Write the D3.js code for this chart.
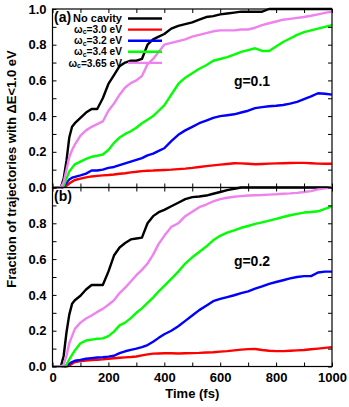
<!DOCTYPE html>
<html>
<head>
<meta charset="utf-8">
<script src="https://cdn.jsdelivr.net/npm/d3@7"></script>
<style>
  body { margin: 0; background: #fff; }
  text { font-family: "Liberation Sans", Arial, sans-serif; font-weight: bold; fill: #000; }
</style>
</head>
<body>
<div class="chart"></div>
<script>
// time grid (fs)
const times = [0, 20, 30, 40, 50, 60, 70, 80, 100, 120, 140, 160, 180, 200, 220, 240, 260, 280, 300, 320,
  340, 360, 380, 400, 425, 450, 475, 500, 525, 550, 575, 600, 625, 650, 675, 700, 725, 750, 775, 800,
  825, 850, 875, 900, 925, 950, 975, 1000]

const seriesNames = ['No cavity', '3.0', '3.2', '3.4', '3.65']
const seriesColors = ['#000000', '#ff0000', '#0000ff', '#00ff00', '#ee82ee']

// panel (a), g = 0.1
const a_noCavity = [0, 0, 0, 0.05, 0.15, 0.28, 0.34, 0.36, 0.39, 0.42, 0.44, 0.44, 0.50, 0.58, 0.63, 0.68, 0.70, 0.71, 0.71, 0.72,
  0.80, 0.83, 0.845, 0.86, 0.89, 0.905, 0.915, 0.925, 0.94, 0.955, 0.96, 0.97, 0.975, 0.98, 0.985, 0.985, 0.985, 0.985, 1, 1,
  1, 1, 1, 1, 1, 1, 1, 1]
const a_w30 = [0, 0, 0, 0.003, 0.01, 0.022, 0.033, 0.042, 0.05, 0.057, 0.062, 0.065, 0.068, 0.07, 0.073, 0.077, 0.08, 0.085, 0.088, 0.092,
  0.094, 0.095, 0.097, 0.098, 0.10, 0.103, 0.106, 0.11, 0.115, 0.12, 0.124, 0.128, 0.132, 0.136, 0.135, 0.133, 0.13, 0.132, 0.134, 0.135,
  0.136, 0.137, 0.138, 0.138, 0.136, 0.134, 0.133, 0.133]
const a_w32 = [0, 0, 0, 0.005, 0.025, 0.045, 0.055, 0.06, 0.068, 0.078, 0.095, 0.095, 0.10, 0.11, 0.115, 0.125, 0.135, 0.145, 0.155, 0.165,
  0.18, 0.19, 0.205, 0.22, 0.26, 0.295, 0.32, 0.34, 0.36, 0.375, 0.39, 0.40, 0.405, 0.41, 0.42, 0.43, 0.445, 0.45, 0.455, 0.458,
  0.462, 0.47, 0.48, 0.495, 0.51, 0.528, 0.525, 0.52]
const a_w34 = [0, 0, 0, 0.01, 0.05, 0.09, 0.11, 0.13, 0.145, 0.16, 0.172, 0.178, 0.185, 0.21, 0.25, 0.28, 0.30, 0.315, 0.335, 0.36,
  0.38, 0.40, 0.43, 0.46, 0.52, 0.58, 0.615, 0.64, 0.665, 0.685, 0.71, 0.72, 0.73, 0.745, 0.76, 0.77, 0.78, 0.765, 0.765, 0.79,
  0.815, 0.835, 0.855, 0.87, 0.88, 0.89, 0.90, 0.91]
const a_w365 = [0, 0, 0, 0.03, 0.10, 0.17, 0.21, 0.24, 0.29, 0.32, 0.34, 0.355, 0.37, 0.43, 0.47, 0.52, 0.56, 0.585, 0.60, 0.625,
  0.69, 0.72, 0.76, 0.80, 0.81, 0.82, 0.83, 0.845, 0.855, 0.865, 0.875, 0.88, 0.88, 0.88, 0.885, 0.885, 0.895, 0.91, 0.92, 0.93,
  0.94, 0.945, 0.95, 0.955, 0.962, 0.97, 0.978, 0.985]

// panel (b), g = 0.2
const b_noCavity = [0, 0, 0, 0.06, 0.19, 0.29, 0.35, 0.37, 0.395, 0.43, 0.455, 0.455, 0.455, 0.53, 0.62, 0.665, 0.69, 0.71, 0.715, 0.72,
  0.80, 0.84, 0.862, 0.875, 0.895, 0.915, 0.935, 0.946, 0.95, 0.955, 0.965, 0.975, 0.985, 0.993, 1, 1, 1, 1, 1, 1,
  1, 1, 1, 1, 1, 1, 1, 1]
const b_w30 = [0, 0, 0, 0, 0, 0.005, 0.015, 0.025, 0.03, 0.033, 0.036, 0.038, 0.04, 0.043, 0.046, 0.049, 0.051, 0.053, 0.056, 0.062,
  0.068, 0.072, 0.073, 0.074, 0.074, 0.073, 0.074, 0.075, 0.076, 0.078, 0.08, 0.083, 0.086, 0.09, 0.094, 0.097, 0.098, 0.092, 0.088, 0.086,
  0.086, 0.088, 0.09, 0.092, 0.096, 0.10, 0.104, 0.108]
const b_w32 = [0, 0, 0, 0, 0.005, 0.015, 0.025, 0.032, 0.037, 0.043, 0.047, 0.05, 0.052, 0.055, 0.06, 0.075, 0.085, 0.093, 0.10, 0.108,
  0.12, 0.138, 0.16, 0.18, 0.20, 0.225, 0.255, 0.285, 0.315, 0.34, 0.365, 0.378, 0.388, 0.398, 0.41, 0.42, 0.435, 0.448, 0.462, 0.472,
  0.482, 0.492, 0.50, 0.505, 0.505, 0.525, 0.53, 0.53]
const b_w34 = [0, 0, 0, 0, 0.01, 0.04, 0.065, 0.09, 0.13, 0.145, 0.15, 0.155, 0.157, 0.17, 0.195, 0.23, 0.245, 0.27, 0.30, 0.325,
  0.355, 0.385, 0.42, 0.45, 0.49, 0.53, 0.575, 0.61, 0.64, 0.67, 0.705, 0.73, 0.748, 0.76, 0.775, 0.785, 0.797, 0.805, 0.815, 0.825,
  0.835, 0.845, 0.853, 0.86, 0.863, 0.867, 0.88, 0.895]
const b_w365 = [0, 0, 0, 0.01, 0.06, 0.13, 0.17, 0.21, 0.245, 0.268, 0.285, 0.305, 0.322, 0.345, 0.37, 0.41, 0.44, 0.475, 0.51, 0.54,
  0.575, 0.625, 0.685, 0.73, 0.78, 0.80, 0.84, 0.865, 0.89, 0.905, 0.922, 0.935, 0.943, 0.948, 0.952, 0.955, 0.957, 0.958, 0.96, 0.962,
  0.965, 0.967, 0.97, 0.975, 0.98, 0.99, 0.995, 1.0]

const panelA = [a_noCavity, a_w30, a_w32, a_w34, a_w365]
const panelB = [b_noCavity, b_w30, b_w32, b_w34, b_w365]

const xTicks = [0, 100, 200, 300, 400, 500, 600, 700, 800, 900, 1000]
const yTicks = [0, 0.1, 0.2, 0.3, 0.4, 0.5, 0.6, 0.7, 0.8, 0.9, 1.0]

const width = 349
const height = 407
const left = 52.5, right = 332
const topA = 9, mid = 187.5, bottomB = 366.5

const svg = d3.select('.chart')
  .append('svg')
  .attr('width', width)
  .attr('height', height)

const x = d3.scaleLinear().domain([0, 1000]).range([left, right])
const yA = d3.scaleLinear().domain([0, 1]).range([mid, topA])
const yB = d3.scaleLinear().domain([0, 1]).range([bottomB, mid])

function drawPanel(y, data, isBottom, tag, gLabel, gY) {
  const g = svg.append('g')

  // lines
  data.forEach((vals, i) => {
    const line = d3.line()
      .x((d, j) => x(times[j]))
      .y(d => y(d))
    g.append('path')
      .datum(vals)
      .attr('d', line)
      .attr('fill', 'none')
      .attr('stroke', seriesColors[i])
      .attr('stroke-width', 2.4)
      .attr('stroke-linejoin', 'round')
  })

  // axes with inward ticks
  const fmtY = d => {
    const k = Math.round(d * 10)
    if (k % 2 !== 0) return ''
    if (isBottom && k === 10) return ''
    return d3.format('.1f')(d)
  }
  g.append('g')
    .attr('transform', 'translate(' + left + ',0)')
    .call(d3.axisLeft(y).tickValues(yTicks).tickSize(-4).tickPadding(6).tickFormat(fmtY))
  g.append('g')
    .attr('transform', 'translate(' + right + ',0)')
    .call(d3.axisRight(y).tickValues(yTicks).tickSize(-4).tickFormat(''))
  const yBase = y(0), yTop = y(1)
  g.append('g')
    .attr('transform', 'translate(0,' + yBase + ')')
    .call(d3.axisBottom(x).tickValues(xTicks).tickSize(-4).tickPadding(6)
      .tickFormat(d => (isBottom && d % 200 === 0) ? d : ''))
  g.append('g')
    .attr('transform', 'translate(0,' + yTop + ')')
    .call(d3.axisTop(x).tickValues(xTicks).tickSize(-4).tickFormat(''))

  g.selectAll('.domain').remove()
  g.selectAll('.tick line').attr('stroke', '#000').attr('stroke-width', 1)
  g.selectAll('.tick text').attr('font-size', 13).attr('fill', '#000')
    .style('font-family', '"Liberation Sans", Arial, sans-serif').style('font-weight', 'bold')

  // frame
  g.append('rect')
    .attr('x', left).attr('y', yTop)
    .attr('width', right - left).attr('height', yBase - yTop)
    .attr('fill', 'none').attr('stroke', '#000').attr('stroke-width', 1.2)

  g.append('text')
    .attr('x', left + 1.5).attr('y', yTop + 13)
    .attr('font-size', 14)
    .text(tag)

  g.append('text')
    .attr('x', 252).attr('y', gY)
    .attr('text-anchor', 'middle')
    .attr('font-size', 14)
    .text(gLabel)
}

drawPanel(yA, panelA, false, '(a)', 'g=0.1', 86)
drawPanel(yB, panelB, true, '(b)', 'g=0.2', 266)

// legend in panel (a)
const legend = svg.append('g')
seriesNames.forEach((name, i) => {
  const ly = 18.5 + i * 11.1
  const t = legend.append('text')
    .attr('x', 122).attr('y', ly + 3.6)
    .attr('text-anchor', 'end')
    .attr('font-size', 10.2)
  if (i === 0) {
    t.attr('font-size', 11).text(name)
  } else {
    t.append('tspan').text('\u03c9')
    t.append('tspan').attr('font-size', 7).attr('dy', 1.2).text('c')
    t.append('tspan').attr('dy', -1.2).text('=' + name + ' eV')
  }
  legend.append('line')
    .attr('x1', 128).attr('x2', 162)
    .attr('y1', ly).attr('y2', ly)
    .attr('stroke', seriesColors[i])
    .attr('stroke-width', 2.4)
})

// axis titles
svg.append('text')
  .attr('x', (left + right) / 2).attr('y', 398)
  .attr('text-anchor', 'middle')
  .attr('font-size', 13)
  .text('Time (fs)')

svg.append('text')
  .attr('transform', 'translate(16,169) rotate(-90)')
  .attr('text-anchor', 'middle')
  .attr('font-size', 13)
  .text('Fraction of trajectories with \u0394E<1.0 eV')
</script>
</body>
</html>
